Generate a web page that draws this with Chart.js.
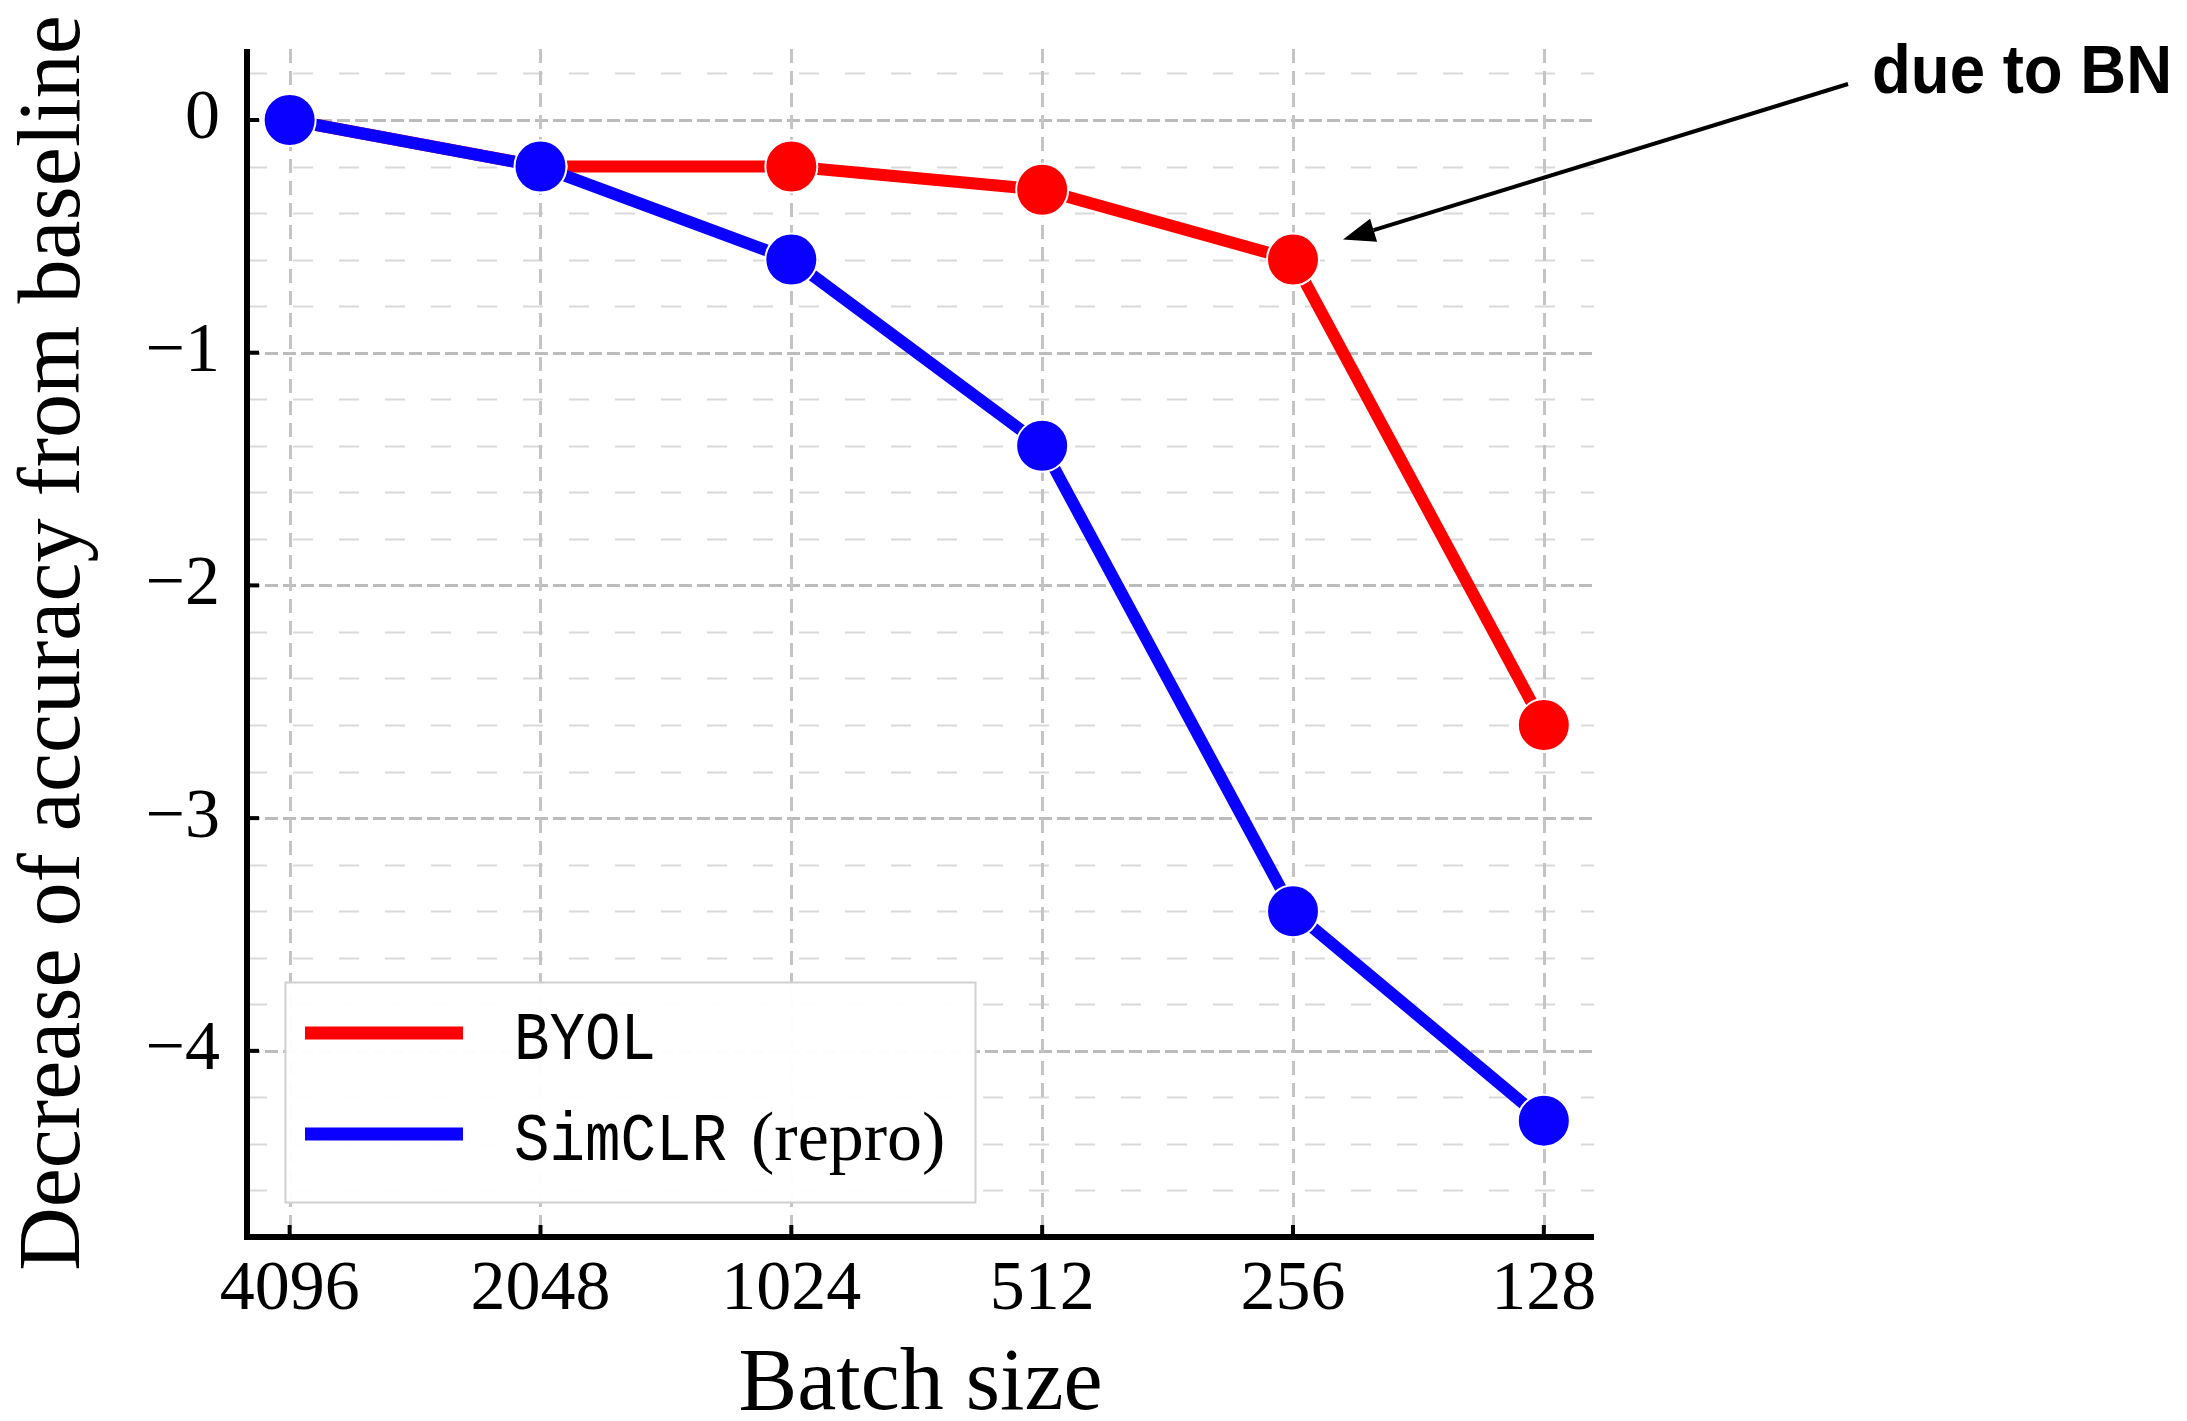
<!DOCTYPE html>
<html><head><meta charset="utf-8">
<script src="https://cdn.jsdelivr.net/npm/chart.js@4.4.1/dist/chart.umd.min.js"></script>
<style>html,body{margin:0;padding:0;background:#fff;overflow:hidden}#wrap{width:2187px;height:1421px}</style>
</head><body><div id="wrap"><canvas id="c" width="2187" height="1421"></canvas></div>
<script>
const batchSizes = ['4096', '2048', '1024', '512', '256', '128'];
const byolValues = [0, -0.2, -0.2, -0.3, -0.6, -2.6];
const simclrValues = [0, -0.2, -0.6, -1.4, -3.4, -4.3];
const yTickValues = [0, -1, -2, -3, -4];
const seriesNames = ['BYOL', 'SimCLR (repro)'];
const xAxisTitle = 'Batch size';
const yAxisTitle = 'Decrease of accuracy from baseline';
const annotationText = 'due to BN';
const annotatedIndex = 4;

const RED = '#ff0000', BLUE = '#0a00ff';
const toPoints = arr => arr.map((v, i) => ({x: i, y: v}));

const decor = {
  id: 'decor',
  beforeDatasetsDraw(chart) {
    const {ctx, chartArea: a, scales: {x, y}} = chart;
    ctx.save();
    // minor horizontal grid (every 0.2)
    for (let k = -23; k <= 1; k++) {
      const v = k / 5;
      if (Math.abs(v - Math.round(v)) < 1e-6) continue;
      const py = Math.round(y.getPixelForValue(v)) + 0.5;
      ctx.strokeStyle = '#d9d9d9'; ctx.lineWidth = 2; ctx.setLineDash([20, 26]);
      ctx.beginPath(); ctx.moveTo(a.left, py); ctx.lineTo(a.right, py); ctx.stroke();
    }
    // major horizontal grid
    yTickValues.forEach(v => {
      const py = Math.round(y.getPixelForValue(v)) + 0.5;
      ctx.strokeStyle = '#bcbcbc'; ctx.lineWidth = 3; ctx.setLineDash([13, 5]);
      ctx.beginPath(); ctx.moveTo(a.left, py); ctx.lineTo(a.right, py); ctx.stroke();
    });
    // vertical grid
    batchSizes.forEach((_, i) => {
      const px = Math.round(x.getPixelForValue(i)) + 0.5;
      ctx.strokeStyle = '#c4c4c4'; ctx.lineWidth = 3; ctx.setLineDash([14, 8]);
      ctx.beginPath(); ctx.moveTo(px, a.top); ctx.lineTo(px, a.bottom); ctx.stroke();
    });
    ctx.restore();
  },
  afterDatasetsDraw(chart) {
    const {ctx, chartArea: a, scales: {x, y}} = chart;
    ctx.save();
    ctx.setLineDash([]);
    // axes
    ctx.strokeStyle = '#000'; ctx.lineWidth = 6;
    ctx.beginPath(); ctx.moveTo(a.left, a.top); ctx.lineTo(a.left, a.bottom + 3); ctx.stroke();
    ctx.beginPath(); ctx.moveTo(a.left - 3, a.bottom); ctx.lineTo(a.right, a.bottom); ctx.stroke();
    // inward ticks
    ctx.lineWidth = 4;
    yTickValues.forEach(v => {
      const py = y.getPixelForValue(v);
      ctx.beginPath(); ctx.moveTo(a.left, py); ctx.lineTo(a.left + 12, py); ctx.stroke();
    });
    batchSizes.forEach((_, i) => {
      const px = x.getPixelForValue(i);
      ctx.beginPath(); ctx.moveTo(px, a.bottom); ctx.lineTo(px, a.bottom - 12); ctx.stroke();
    });
    // legend box
    const bx = a.left + 38, by = a.bottom - 255, bw = 690, bh = 220;
    ctx.fillStyle = 'rgba(255,255,255,0.96)';
    ctx.fillRect(bx, by, bw, bh);
    ctx.strokeStyle = '#d0d0d0'; ctx.lineWidth = 2;
    ctx.strokeRect(bx + 0.5, by + 0.5, bw, bh);
    const dsets = chart.data.datasets;
    const rows = [dsets[1], dsets[0]];
    rows.forEach((ds, r) => {
      const ly = by + 51 + r * 101;
      ctx.strokeStyle = ds.borderColor; ctx.lineWidth = 13;
      ctx.beginPath(); ctx.moveTo(bx + 20, ly); ctx.lineTo(bx + 178, ly); ctx.stroke();
      const label = ds.label;
      const cut = label.indexOf(' (');
      const mono = cut >= 0 ? label.slice(0, cut) : label;
      const serif = cut >= 0 ? label.slice(cut + 1) : '';
      ctx.fillStyle = '#000'; ctx.textBaseline = 'alphabetic'; ctx.textAlign = 'left';
      ctx.save();
      ctx.translate(bx + 229, ly + 26);
      ctx.scale(0.87, 1);
      ctx.font = '68px "Liberation Mono", monospace';
      ctx.fillText(mono, 0, 0);
      const w = ctx.measureText(mono).width * 0.87;
      ctx.restore();
      if (serif) {
        ctx.font = '70px "Liberation Serif", serif';
        ctx.fillText(serif, bx + 229 + w + 24, ly + 26);
      }
    });
    // annotation arrow
    const tx = x.getPixelForValue(annotatedIndex) + 50;
    const ty = y.getPixelForValue(byolValues[annotatedIndex]) - 20;
    const sx = 1848, sy = 84;
    const ang = Math.atan2(ty - sy, tx - sx);
    const hl = 32, hw = 12;
    const bxh = tx - hl * Math.cos(ang), byh = ty - hl * Math.sin(ang);
    ctx.strokeStyle = '#000'; ctx.lineWidth = 4;
    ctx.beginPath(); ctx.moveTo(sx, sy); ctx.lineTo(bxh, byh); ctx.stroke();
    ctx.fillStyle = '#000';
    ctx.beginPath();
    ctx.moveTo(tx, ty);
    ctx.lineTo(bxh + hw * Math.sin(ang), byh - hw * Math.cos(ang));
    ctx.lineTo(bxh - hw * Math.sin(ang), byh + hw * Math.cos(ang));
    ctx.closePath(); ctx.fill();
    // annotation text
    ctx.save();
    ctx.translate(1872, 93);
    ctx.scale(0.935, 1);
    ctx.font = 'bold 68px "Liberation Sans", Arial, sans-serif';
    ctx.textBaseline = 'alphabetic'; ctx.textAlign = 'left';
    ctx.fillText(annotationText, 0, 0);
    ctx.restore();
    ctx.restore();
  }
};

new Chart(document.getElementById('c'), {
  type: 'line',
  data: {
    datasets: [
      {label: seriesNames[1], data: toPoints(simclrValues), borderColor: BLUE, backgroundColor: BLUE,
       borderWidth: 12, pointRadius: 26, pointHoverRadius: 26, pointBackgroundColor: BLUE,
       pointBorderColor: '#ffffff', pointBorderWidth: 2, order: 0, tension: 0},
      {label: seriesNames[0], data: toPoints(byolValues), borderColor: RED, backgroundColor: RED,
       borderWidth: 12, pointRadius: 26, pointHoverRadius: 26, pointBackgroundColor: RED,
       pointBorderColor: '#ffffff', pointBorderWidth: 2, order: 1, tension: 0}
    ]
  },
  options: {
    responsive: false, animation: false, devicePixelRatio: 1,
    layout: {padding: {top: 49, right: 593, left: 0, bottom: 0}},
    plugins: {legend: {display: false}, tooltip: {enabled: false}},
    scales: {
      x: {
        type: 'linear', min: -0.17, max: 5.2,
        afterBuildTicks: s => { s.ticks = batchSizes.map((_, i) => ({value: i})); },
        afterFit: s => { s.height = 184; s.paddingLeft = 0; s.paddingRight = 0; },
        grid: {display: false, drawTicks: false}, border: {display: false},
        ticks: {callback: v => batchSizes[v] ?? '', color: '#000', padding: 12,
                font: {family: '"Liberation Serif", serif', size: 70}, maxRotation: 0, autoSkip: false},
        title: {display: true, text: xAxisTitle, color: '#000',
                font: {family: '"Liberation Serif", serif', size: 88, lineHeight: 1}, padding: {top: 0, bottom: -9}}
      },
      y: {
        type: 'linear', min: -4.8, max: 0.305,
        afterBuildTicks: s => { s.ticks = yTickValues.map(v => ({value: v})); },
        afterFit: s => { s.width = 247; s.paddingTop = 0; s.paddingBottom = 0; },
        grid: {display: false, drawTicks: false}, border: {display: false},
        ticks: {callback: v => v === 0 ? '0' : '\u2212' + Math.abs(v), color: '#000', padding: 27,
                font: {family: '"Liberation Serif", serif', size: 70}},
        title: {display: true, text: yAxisTitle, color: '#000',
                font: {family: '"Liberation Serif", serif', size: 88, lineHeight: 1}, padding: {top: 12, bottom: 0}}
      }
    }
  },
  plugins: [decor]
});
</script></body></html>
